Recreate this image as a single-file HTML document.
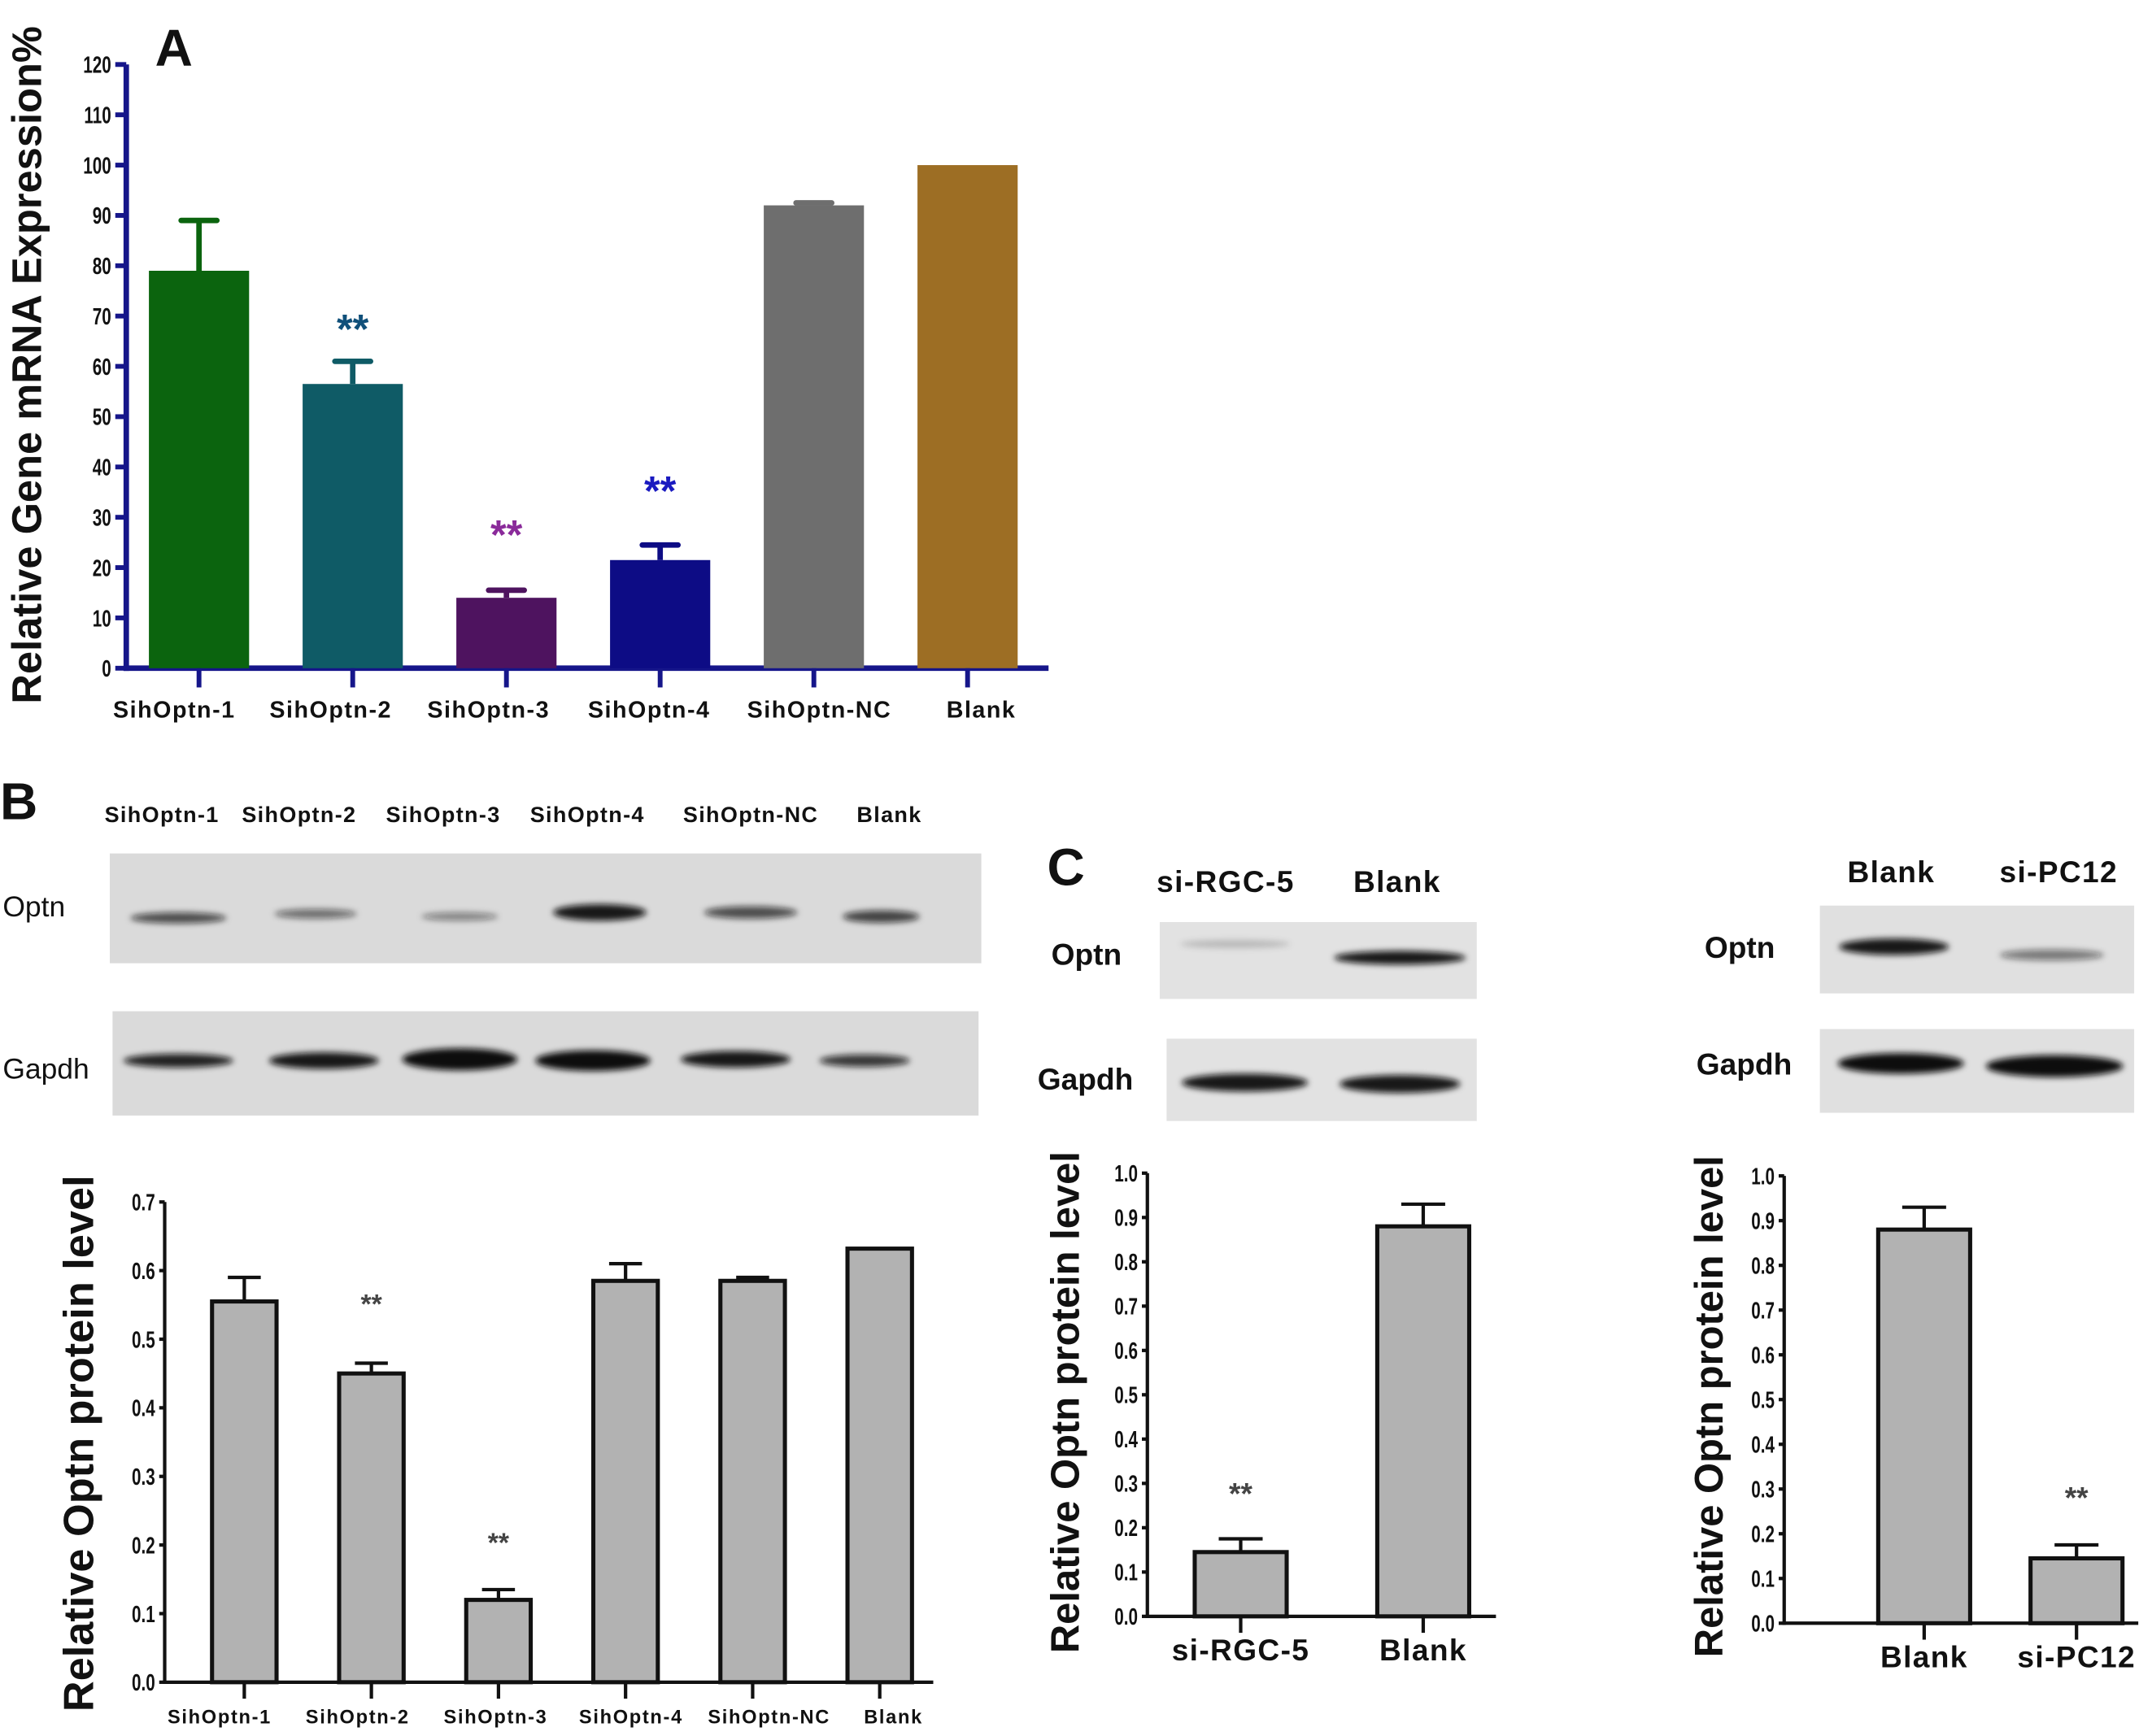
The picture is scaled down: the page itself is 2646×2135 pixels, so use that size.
<!DOCTYPE html>
<html><head><meta charset="utf-8"><style>
html,body{margin:0;padding:0;background:#fff}
svg{display:block}
text{font-family:"Liberation Sans",Arial,sans-serif}
.tk{font-family:"Liberation Sans Narrow","Liberation Sans",sans-serif;font-weight:bold}
</style></head><body>
<svg id="fig" xmlns="http://www.w3.org/2000/svg" width="2646" height="2135" viewBox="0 0 1568 1265.2" preserveAspectRatio="none">
<defs>
<filter id="blur" x="-20%" y="-100%" width="140%" height="300%"><feGaussianBlur stdDeviation="2.2"/></filter>
</defs>
<g id="root"></g>
</svg>
<script>
// ---- Panel A data ----
const catsA = ["SihOptn-1","SihOptn-2","SihOptn-3","SihOptn-4","SihOptn-NC","Blank"];
const valsA = [79, 56.5, 14, 21.5, 92, 100];
const errsA = [89, 61, 15.5, 24.5, 92.5, 100];
const sigA = ["", "**", "**", "**", "", ""];
const ticksA = [0,10,20,30,40,50,60,70,80,90,100,110,120];
// ---- Panel B data ----
const catsB = ["SihOptn-1","SihOptn-2","SihOptn-3","SihOptn-4","SihOptn-NC","Blank"];
const valsB = [0.555, 0.45, 0.12, 0.585, 0.585, 0.632];
const errsB = [0.59, 0.465, 0.135, 0.61, 0.59, 0.632];
const sigB = ["", "**", "**", "", "", ""];
const ticksB = [0.0,0.1,0.2,0.3,0.4,0.5,0.6,0.7];
// ---- Panel C data ----
const catsC1 = ["si-RGC-5","Blank"];
const valsC1 = [0.145, 0.88];
const errsC1 = [0.175, 0.93];
const sigC1 = ["**",""];
const catsC2 = ["Blank","si-PC12"];
const valsC2 = [0.88, 0.145];
const errsC2 = [0.93, 0.175];
const sigC2 = ["","**"];
const ticksC = [0.0,0.1,0.2,0.3,0.4,0.5,0.6,0.7,0.8,0.9,1.0];

const NS="http://www.w3.org/2000/svg";
const root=document.getElementById('root');
function el(tag,attrs,parent,txt){const e=document.createElementNS(NS,tag);for(const k in attrs)e.setAttribute(k,attrs[k]);if(txt!==undefined)e.textContent=txt;(parent||root).appendChild(e);return e;}

function chart(o){
  const g=el('g',{});
  
  
  const ymax=o.ticks[o.ticks.length-1];
  const y=v=>o.y0-(v/ymax)*(o.y0-o.y1);
  const x=i=>o.c0+i*o.step;
  const ax=el('line',{x1:o.ax,y1:o.y1,x2:o.ax,y2:o.y0+o.axw/2,stroke:o.axc,'stroke-width':o.axw},g);
  
  
  const xa=el('line',{x1:o.ax-o.axw/2,y1:o.y0,x2:o.xend,y2:o.y0,stroke:o.axc,'stroke-width':o.axw},g);
  
  
  o.ticks.forEach(t=>{
    el('line',{x1:o.ax-o.tl,y1:y(t),x2:o.ax,y2:y(t),stroke:o.axc,'stroke-width':o.tw},g);
    const tx=o.ax-o.tl-3;
    const tt=el('text',{x:tx,y:y(t)+o.tfs*0.36,'text-anchor':'end','font-size':o.tfs,class:'tk',fill:'#111',transform:`translate(${tx},0) scale(0.72,1) translate(${-tx},0)`},g,o.fmt(t));
    
    
  });
  o.vals.forEach((v,i)=>{
    const cx=x(i);
    const col=o.colors?o.colors[i]:'#b2b2b2';
    if(o.errs[i]>v+1e-9){
      el('line',{x1:cx,y1:y(v),x2:cx,y2:y(o.errs[i]),stroke:o.errc?o.errc[i]:'#111','stroke-width':o.ew},g);
      el('line',{x1:cx-o.capw,y1:y(o.errs[i]),x2:cx+o.capw,y2:y(o.errs[i]),stroke:o.errc?o.errc[i]:'#111','stroke-width':o.ew,'stroke-linecap':o.colors?'round':'butt'},g);
    }
    const b=el('rect',{x:cx-o.bw/2,y:y(v),width:o.bw,height:o.y0-y(v),fill:col,stroke:o.colors?'none':'#111','stroke-width':o.colors?0:3},g);
    
    
    el('line',{x1:cx,y1:o.y0,x2:cx,y2:o.y0+o.xtl,stroke:o.axc,'stroke-width':o.tw},g);
    const lt=el('text',{x:cx+(o.lxoff?o.lxoff[i]:0),y:o.ly,'text-anchor':'middle','font-size':o.lfs,'font-weight':'bold','letter-spacing':o.lls||0,fill:'#111'},g,o.cats[i]);
    
    
    if(o.sig[i]){
      const s=el('text',{x:cx,y:o.sigY[i],'text-anchor':'middle','font-size':o.sfs,'font-weight':'bold',fill:o.sigc[i]},g,o.sig[i]);
      
      
    }
  });
  const yl=el('text',{x:o.ylx,y:o.yly,'text-anchor':'middle','font-size':o.ylfs,'font-weight':'bold',fill:'#111',transform:`rotate(-90 ${o.ylx} ${o.yly})`},g,o.ylabel);
  
  
}

function blot(name,x,yy,w,h,bands,fill){
  const g=el('g',{});
  
  
  el('rect',{x:x,y:yy,width:w,height:h,fill:fill||'#dadada'},g);
  bands.forEach(b=>{el('ellipse',{cx:b[0],cy:b[1],rx:b[2],ry:b[3],fill:'#111','fill-opacity':b[4],filter:'url(#blur)'},g);});
}
function label(name,x,yy,txt,fs,wt,anchor,ls){
  const t=el('text',{x:x,y:yy,'font-size':fs,'font-weight':wt||'normal','text-anchor':anchor||'start','letter-spacing':ls||0,fill:'#111'},root,txt);
  
  
}

// ---------- Panel A ----------
label('panel-a-label',113,48,'A',38,'bold');
chart({name:'chart-a',cats:catsA,vals:valsA,errs:errsA,sig:sigA,ticks:ticksA,
  ax:92,y0:487,y1:47,xend:764,c0:145,step:112,bw:73,axc:'#16168a',axw:4,tw:3.5,tl:8,xtl:14,
  tfs:17,fmt:t=>String(t),ew:4,capw:13,
  colors:['#0b640e','#0f5b66','#4e135f','#0d0c85','#6e6e6e','#9d6e24'],
  errc:['#0b640e','#0f5b66','#4e135f','#0d0c85','#6e6e6e','#9d6e24'],
  sigc:['','#10507a','#8a2a9a','#1a1ac0','',''],sfs:30,sigY:[0,250,400,368,0,0],
  lfs:17,lls:0.9,ly:523,lxoff:[-18,-16,-13,-8,4,10],ylabel:'Relative Gene mRNA Expression%',ylx:30,yly:266,ylfs:30});

// ---------- Panel B ----------
label('panel-b-label',0,597,'B',38,'bold');
const blotLabelsB=[[118,'SihOptn-1'],[218,'SihOptn-2'],[323,'SihOptn-3'],[428,'SihOptn-4'],[547,'SihOptn-NC'],[648,'Blank']];
blotLabelsB.forEach(l=>label('blot-lane-label',l[0],599,l[1],16,'bold','middle',0.8));
blot('optn-blot-b',80,622,635,80,[[130,669,35,4,0.7],[230,666,30,3.5,0.55],[335,668,28,3,0.45],[437,665,34,6,0.95],[547,665,34,4.5,0.7],[642,668,28,4.5,0.75]]);
blot('gapdh-blot-b',82,737,631,76,[[130,773,40,5,0.9],[236,773,40,6,0.95],[335,772,42,8,1],[432,773,42,7.5,1],[536,772,40,6,0.95],[630,773,33,4.5,0.8]]);
label('optn-label-b',2,668,'Optn',21);
label('gapdh-label-b',2,786,'Gapdh',21);
chart({name:'chart-b',cats:catsB,vals:valsB,errs:errsB,sig:sigB,ticks:ticksB,
  ax:120,y0:1226,y1:876,xend:680,c0:178,step:92.6,bw:47,axc:'#111',axw:2.5,tw:2.5,tl:4,xtl:12,
  tfs:17,fmt:t=>t.toFixed(1),ew:2.5,capw:12,sfs:20,sigY:[0,957,1131,0,0,0],sigc:['','#444','#444','','',''],
  lfs:14,lls:1,ly:1256,lxoff:[-18,-10,-2,4,12,10],ylabel:'Relative Optn protein level',ylx:68,yly:1052,ylfs:31});

// ---------- Panel C ----------
label('panel-c-label',763,645,'C',38,'bold');
label('blot-lane-label',893,650,'si-RGC-5',22,'bold','middle',0.8);
label('blot-lane-label',1018,650,'Blank',22,'bold','middle',0.8);
blot('optn-blot-c1',845,672,231,56,[[900,688,40,3,0.18],[1020,698,48,5,0.95]],'#e2e2e2');
blot('gapdh-blot-c1',850,757,226,60,[[907,789,46,6.5,0.95],[1020,790,44,6.5,0.95]],'#e2e2e2');
label('optn-label-c1',766,703,'Optn',22,'bold');
label('gapdh-label-c1',756,794,'Gapdh',22,'bold');
chart({name:'chart-c-rgc5',cats:catsC1,vals:valsC1,errs:errsC1,sig:sigC1,ticks:ticksC,
  ax:836,y0:1178,y1:855,xend:1090,c0:904,step:133,bw:67,axc:'#111',axw:2.5,tw:2.5,tl:4,xtl:12,
  tfs:17,fmt:t=>t.toFixed(1),ew:2.5,capw:16,sfs:22,sigY:[1096,0],sigc:['#444',''],
  lfs:22,lls:0.8,ly:1210,ylabel:'Relative Optn protein level',ylx:786,yly:1022,ylfs:29});

label('blot-lane-label',1378,643,'Blank',22,'bold','middle',0.8);
label('blot-lane-label',1500,643,'si-PC12',22,'bold','middle',0.8);
blot('optn-blot-c2',1326,660,229,64,[[1380,690,40,6,0.95],[1495,696,38,4,0.5]],'#e0e0e0');
blot('gapdh-blot-c2',1326,750,229,61,[[1385,775,46,7.5,1],[1497,777,50,8,1]],'#e0e0e0');
label('optn-label-c2',1242,698,'Optn',22,'bold');
label('gapdh-label-c2',1236,783,'Gapdh',22,'bold');
chart({name:'chart-c-pc12',cats:catsC2,vals:valsC2,errs:errsC2,sig:sigC2,ticks:ticksC,
  ax:1300,y0:1183,y1:857,xend:1558,c0:1402,step:111,bw:67,axc:'#111',axw:2.5,tw:2.5,tl:4,xtl:12,
  tfs:17,fmt:t=>t.toFixed(1),ew:2.5,capw:16,sfs:22,sigY:[0,1099],sigc:['','#444'],
  lfs:22,lls:0.8,ly:1215,ylabel:'Relative Optn protein level',ylx:1255,yly:1025,ylfs:29});
</script>
</body></html>
